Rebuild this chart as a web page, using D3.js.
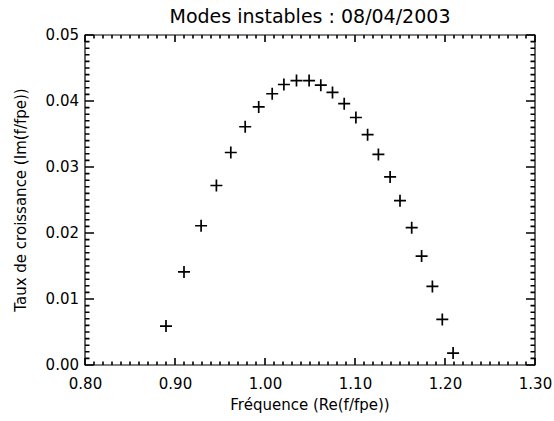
<!DOCTYPE html>
<html>
<head>
<meta charset="utf-8">
<script src="https://cdn.jsdelivr.net/npm/d3@7"></script>
<style>
  html, body { margin: 0; padding: 0; background: #fff; }
  svg { display: block; }
  text { font-family: "DejaVu Sans", sans-serif; fill: #000; }
</style>
</head>
<body>
<script>
// Real part of the frequency (Re(f/fpe)) for each unstable mode
const frequency = [
  0.890, 0.910, 0.929, 0.946, 0.962, 0.978, 0.993, 1.008,
  1.021, 1.035, 1.049, 1.062, 1.075, 1.088, 1.101, 1.114,
  1.126, 1.139, 1.150, 1.163, 1.174, 1.186, 1.197, 1.209
];
// Growth rate (Im(f/fpe)) for each mode
const growth = [
  0.0059, 0.0141, 0.0211, 0.0272, 0.0322, 0.0361, 0.0391, 0.0411,
  0.0425, 0.0431, 0.0431, 0.0424, 0.0413, 0.0396, 0.0375, 0.0349,
  0.0319, 0.0285, 0.0249, 0.0208, 0.0165, 0.0119, 0.0069, 0.0018
];
const xTicks = [0.80, 0.90, 1.00, 1.10, 1.20, 1.30];
const yTicks = [0.00, 0.01, 0.02, 0.03, 0.04, 0.05];
const titleText = "Modes instables : 08/04/2003";
const xTitle = "Fréquence (Re(f/fpe))";
const yTitle = "Taux de croissance (Im(f/fpe))";

const W = 554, H = 421;
const m = { left: 85, top: 35, right: 19, bottom: 56 };
const pw = W - m.left - m.right, ph = H - m.top - m.bottom;

const svg = d3.select("body").append("svg").attr("width", W).attr("height", H);
const g = svg.append("g").attr("transform", `translate(${m.left},${m.top})`);

const x = d3.scaleLinear().domain([0.80, 1.30]).range([0, pw]);
const y = d3.scaleLinear().domain([0.00, 0.05]).range([ph, 0]);

const majX = 7, minX = 3.5, majY = 9, minY = 4.5;
const fs = 15;

// tick positions: ten subdivisions per labelled interval
const xAll = x.ticks(50).map((v, i) => ({ v, major: i % 10 === 0 }));
const yAll = y.ticks(50).map((v, i) => ({ v, major: i % 10 === 0 }));

// inward tick marks on all four sides
const tg = g.append("g").attr("fill", "none").attr("stroke", "#000").attr("stroke-width", 1.6);
tg.selectAll("path.tx").data(xAll).join("path").attr("class", "tx")
  .attr("d", d => {
    const sx = x(d.v), l = d.major ? majX : minX;
    return `M${sx},${ph}V${ph - l}M${sx},0V${l}`;
  });
tg.selectAll("path.ty").data(yAll).join("path").attr("class", "ty")
  .attr("d", d => {
    const sy = y(d.v), l = d.major ? majY : minY;
    return `M0,${sy}H${l}M${pw},${sy}H${pw - l}`;
  });

// plot frame
g.append("path").attr("d", `M0,0H${pw}V${ph}H0Z`)
  .attr("fill", "none").attr("stroke", "#000").attr("stroke-width", 1.2);

// tick labels via d3 axes (their own tick lines removed)
g.append("g").attr("transform", `translate(0,${ph})`)
  .call(d3.axisBottom(x).tickValues(xTicks).tickSize(0).tickPadding(13).tickFormat(d3.format(".2f")))
  .call(a => { a.select(".domain").remove(); a.selectAll("line").remove(); })
  .call(a => a.selectAll("text").attr("font-size", fs).attr("fill", "#000"));
g.append("g")
  .call(d3.axisLeft(y).tickValues(yTicks).tickSize(0).tickPadding(6).tickFormat(d3.format(".2f")))
  .call(a => { a.select(".domain").remove(); a.selectAll("line").remove(); })
  .call(a => a.selectAll("text").attr("font-size", fs).attr("fill", "#000"));

// plus-sign markers
const pts = frequency.map((f, i) => ({ f, gr: growth[i] }));
const r = 6;
g.append("g").attr("stroke", "#000").attr("stroke-width", 1.7)
  .selectAll("path").data(pts).join("path")
  .attr("d", d => {
    const cx = x(d.f), cy = y(d.gr);
    return `M${cx - r},${cy}H${cx + r}M${cx},${cy - r}V${cy + r}`;
  });

// titles
svg.append("text").attr("x", m.left + pw / 2).attr("y", 23)
  .attr("text-anchor", "middle").attr("font-size", 19).text(titleText);
svg.append("text").attr("x", m.left + pw / 2).attr("y", 410)
  .attr("text-anchor", "middle").attr("font-size", fs).text(xTitle);
svg.append("text").attr("transform", `translate(26,${m.top + ph / 2}) rotate(-90)`)
  .attr("text-anchor", "middle").attr("font-size", fs).text(yTitle);
</script>
</body>
</html>
